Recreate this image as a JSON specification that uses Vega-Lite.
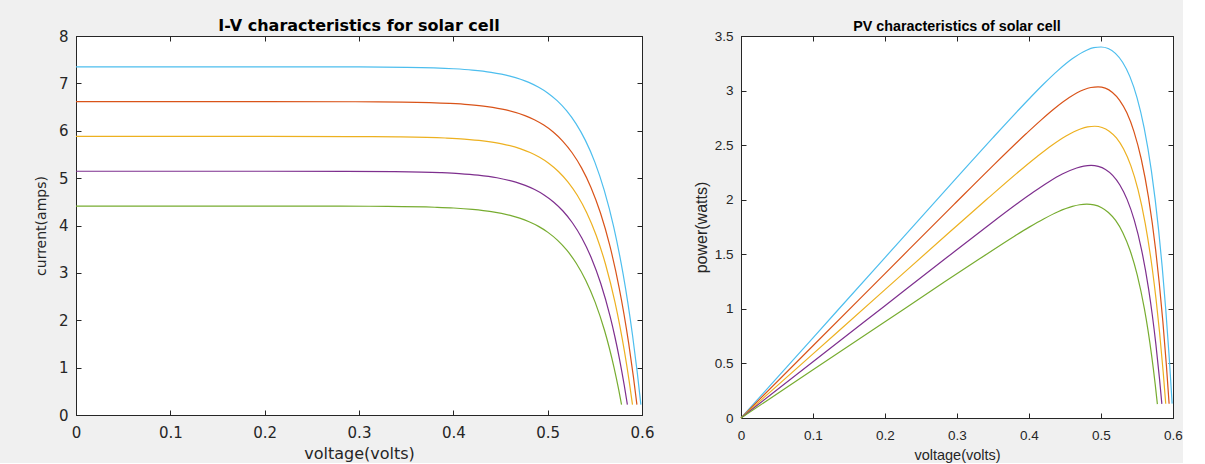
{
  "$schema": "https://vega.github.io/schema/vega-lite/v6.json",
  "background": "#f0f0f0",
  "padding": {"left": 33, "top": 17, "right": 0, "bottom": 0},
  "spacing": 37,
  "config": {
    "view": {"stroke": "#262626", "strokeWidth": 1, "fill": "white"},
    "axis": {"grid": false, "domainColor": "#262626", "tickColor": "#262626", "labelColor": "#262626", "titleColor": "#262626", "titleFontWeight": "normal", "labelFlush": false, "tickSize": -5}
  },
  "datasets": {
    "cells": [
      {"s":"A","v":0,"i":7.35,"p":0},{"s":"A","v":0.1,"i":7.35,"p":0.735},{"s":"A","v":0.2,"i":7.35,"p":1.47},{"s":"A","v":0.3,"i":7.347,"p":2.204},{"s":"A","v":0.35,"i":7.339,"p":2.569},{"s":"A","v":0.4,"i":7.309,"p":2.923},{"s":"A","v":0.42,"i":7.281,"p":3.058},{"s":"A","v":0.44,"i":7.234,"p":3.183},{"s":"A","v":0.46,"i":7.154,"p":3.291},{"s":"A","v":0.48,"i":7.022,"p":3.37},{"s":"A","v":0.49,"i":6.924,"p":3.393},{"s":"A","v":0.5,"i":6.799,"p":3.399},{"s":"A","v":0.51,"i":6.636,"p":3.385},{"s":"A","v":0.52,"i":6.425,"p":3.341},{"s":"A","v":0.53,"i":6.151,"p":3.26},{"s":"A","v":0.54,"i":5.797,"p":3.13},{"s":"A","v":0.55,"i":5.338,"p":2.936},{"s":"A","v":0.56,"i":4.742,"p":2.656},{"s":"A","v":0.57,"i":3.971,"p":2.264},{"s":"A","v":0.58,"i":2.972,"p":1.724},{"s":"A","v":0.585,"i":2.367,"p":1.385},{"s":"A","v":0.59,"i":1.678,"p":0.99},{"s":"A","v":0.595,"i":0.893,"p":0.531},{"s":"A","v":0.5988,"i":0.22,"p":0.132},
      {"s":"B","v":0,"i":6.615,"p":0},{"s":"B","v":0.1,"i":6.615,"p":0.662},{"s":"B","v":0.2,"i":6.615,"p":1.323},{"s":"B","v":0.2959,"i":6.612,"p":1.957},{"s":"B","v":0.3459,"i":6.605,"p":2.285},{"s":"B","v":0.3959,"i":6.578,"p":2.604},{"s":"B","v":0.4159,"i":6.553,"p":2.725},{"s":"B","v":0.4359,"i":6.511,"p":2.838},{"s":"B","v":0.4559,"i":6.439,"p":2.936},{"s":"B","v":0.4759,"i":6.319,"p":3.007},{"s":"B","v":0.4859,"i":6.232,"p":3.028},{"s":"B","v":0.4959,"i":6.119,"p":3.034},{"s":"B","v":0.5059,"i":5.973,"p":3.022},{"s":"B","v":0.5159,"i":5.782,"p":2.983},{"s":"B","v":0.5259,"i":5.536,"p":2.911},{"s":"B","v":0.5359,"i":5.217,"p":2.796},{"s":"B","v":0.5459,"i":4.804,"p":2.622},{"s":"B","v":0.5559,"i":4.268,"p":2.373},{"s":"B","v":0.5659,"i":3.574,"p":2.023},{"s":"B","v":0.5759,"i":2.674,"p":1.54},{"s":"B","v":0.5809,"i":2.13,"p":1.237},{"s":"B","v":0.5859,"i":1.51,"p":0.885},{"s":"B","v":0.5909,"i":0.804,"p":0.475},{"s":"B","v":0.5946,"i":0.22,"p":0.131},
      {"s":"C","v":0,"i":5.88,"p":0},{"s":"C","v":0.1,"i":5.88,"p":0.588},{"s":"C","v":0.2,"i":5.88,"p":1.176},{"s":"C","v":0.2914,"i":5.878,"p":1.713},{"s":"C","v":0.3414,"i":5.871,"p":2.004},{"s":"C","v":0.3914,"i":5.847,"p":2.289},{"s":"C","v":0.4114,"i":5.825,"p":2.396},{"s":"C","v":0.4314,"i":5.787,"p":2.497},{"s":"C","v":0.4514,"i":5.724,"p":2.584},{"s":"C","v":0.4714,"i":5.617,"p":2.648},{"s":"C","v":0.4814,"i":5.54,"p":2.667},{"s":"C","v":0.4914,"i":5.439,"p":2.673},{"s":"C","v":0.5014,"i":5.309,"p":2.662},{"s":"C","v":0.5114,"i":5.14,"p":2.628},{"s":"C","v":0.5214,"i":4.921,"p":2.566},{"s":"C","v":0.5314,"i":4.638,"p":2.464},{"s":"C","v":0.5414,"i":4.27,"p":2.312},{"s":"C","v":0.5514,"i":3.794,"p":2.092},{"s":"C","v":0.5614,"i":3.177,"p":1.784},{"s":"C","v":0.5714,"i":2.377,"p":1.358},{"s":"C","v":0.5764,"i":1.893,"p":1.091},{"s":"C","v":0.5814,"i":1.342,"p":0.781},{"s":"C","v":0.5864,"i":0.714,"p":0.419},{"s":"C","v":0.5899,"i":0.22,"p":0.13},
      {"s":"D","v":0,"i":5.145,"p":0},{"s":"D","v":0.1,"i":5.145,"p":0.515},{"s":"D","v":0.2,"i":5.145,"p":1.029},{"s":"D","v":0.2862,"i":5.143,"p":1.472},{"s":"D","v":0.3362,"i":5.137,"p":1.727},{"s":"D","v":0.3862,"i":5.116,"p":1.976},{"s":"D","v":0.4062,"i":5.097,"p":2.07},{"s":"D","v":0.4262,"i":5.064,"p":2.158},{"s":"D","v":0.4462,"i":5.008,"p":2.235},{"s":"D","v":0.4662,"i":4.915,"p":2.291},{"s":"D","v":0.4762,"i":4.847,"p":2.308},{"s":"D","v":0.4862,"i":4.759,"p":2.314},{"s":"D","v":0.4962,"i":4.645,"p":2.305},{"s":"D","v":0.5062,"i":4.497,"p":2.277},{"s":"D","v":0.5162,"i":4.306,"p":2.223},{"s":"D","v":0.5262,"i":4.058,"p":2.135},{"s":"D","v":0.5362,"i":3.736,"p":2.003},{"s":"D","v":0.5462,"i":3.32,"p":1.813},{"s":"D","v":0.5562,"i":2.78,"p":1.546},{"s":"D","v":0.5662,"i":2.08,"p":1.178},{"s":"D","v":0.5712,"i":1.657,"p":0.946},{"s":"D","v":0.5762,"i":1.175,"p":0.677},{"s":"D","v":0.5812,"i":0.625,"p":0.363},{"s":"D","v":0.5845,"i":0.22,"p":0.129},
      {"s":"E","v":0,"i":4.41,"p":0},{"s":"E","v":0.1,"i":4.41,"p":0.441},{"s":"E","v":0.2,"i":4.41,"p":0.882},{"s":"E","v":0.2803,"i":4.408,"p":1.236},{"s":"E","v":0.3303,"i":4.403,"p":1.454},{"s":"E","v":0.3803,"i":4.385,"p":1.668},{"s":"E","v":0.4003,"i":4.369,"p":1.749},{"s":"E","v":0.4203,"i":4.34,"p":1.824},{"s":"E","v":0.4403,"i":4.293,"p":1.89},{"s":"E","v":0.4603,"i":4.213,"p":1.939},{"s":"E","v":0.4703,"i":4.155,"p":1.954},{"s":"E","v":0.4803,"i":4.079,"p":1.959},{"s":"E","v":0.4903,"i":3.982,"p":1.952},{"s":"E","v":0.5003,"i":3.855,"p":1.929},{"s":"E","v":0.5103,"i":3.691,"p":1.883},{"s":"E","v":0.5203,"i":3.478,"p":1.81},{"s":"E","v":0.5303,"i":3.203,"p":1.698},{"s":"E","v":0.5403,"i":2.845,"p":1.537},{"s":"E","v":0.5503,"i":2.383,"p":1.311},{"s":"E","v":0.5603,"i":1.783,"p":0.999},{"s":"E","v":0.5653,"i":1.42,"p":0.803},{"s":"E","v":0.5703,"i":1.007,"p":0.574},{"s":"E","v":0.5753,"i":0.536,"p":0.308},{"s":"E","v":0.5783,"i":0.22,"p":0.127}
    ]
  },
  "hconcat": [
    {
      "width": 566,
      "height": 379,
      "data": {"name": "cells"},
      "title": {"text": "I-V characteristics for solar cell", "font": "DejaVu Sans", "fontSize": 16, "fontWeight": "bold", "color": "#000000", "offset": -5, "anchor": "middle"},
      "layer": [
        {
          "mark": {"type": "line", "interpolate": "monotone", "strokeWidth": 1.2},
          "encoding": {
            "x": {"field": "v", "type": "quantitative", "scale": {"domain": [0, 0.6], "nice": false, "zero": false},
              "axis": {"orient": "bottom", "values": [0, 0.1, 0.2, 0.3, 0.4, 0.5, 0.6], "format": "~g", "labelPadding": 15, "labelFont": "DejaVu Sans", "labelFontSize": 15, "title": "voltage(volts)", "titleFont": "DejaVu Sans", "titleFontSize": 16, "titlePadding": 5}},
            "y": {"field": "i", "type": "quantitative", "scale": {"domain": [0, 8], "nice": false},
              "axis": {"orient": "left", "values": [0, 1, 2, 3, 4, 5, 6, 7, 8], "format": "~g", "labelPadding": 13, "labelFont": "DejaVu Sans", "labelFontSize": 15, "title": "current(amps)", "titleFont": "DejaVu Sans", "titleFontSize": 14, "titlePadding": 10}},
            "color": {"field": "s", "type": "nominal", "scale": {"domain": ["A", "B", "C", "D", "E"], "range": ["#4DBEEE", "#D95319", "#EDB120", "#7E2F8E", "#77AC30"]}, "legend": null}
          }
        },
        {
          "mark": {"type": "point", "opacity": 0},
          "encoding": {
            "x": {"field": "v", "type": "quantitative", "scale": {"domain": [0, 0.6], "nice": false, "zero": false},
              "axis": {"orient": "top", "values": [0, 0.1, 0.2, 0.3, 0.4, 0.5, 0.6], "labels": false, "title": null}},
            "y": {"field": "i", "type": "quantitative", "scale": {"domain": [0, 8], "nice": false},
              "axis": {"orient": "right", "values": [0, 1, 2, 3, 4, 5, 6, 7, 8], "labels": false, "title": null}}
          }
        }
      ],
      "resolve": {"axis": {"x": "independent", "y": "independent"}}
    },
    {
      "width": 432,
      "height": 382,
      "data": {"name": "cells"},
      "title": {"text": "PV characteristics of solar cell", "font": "Liberation Sans", "fontSize": 14.3, "fontWeight": "bold", "color": "#000000", "offset": -5, "anchor": "middle"},
      "layer": [
        {
          "mark": {"type": "line", "interpolate": "monotone", "strokeWidth": 1.2},
          "encoding": {
            "x": {"field": "v", "type": "quantitative", "scale": {"domain": [0, 0.6], "nice": false, "zero": false},
              "axis": {"orient": "bottom", "values": [0, 0.1, 0.2, 0.3, 0.4, 0.5, 0.6], "format": "~g", "labelPadding": 15, "labelFont": "Liberation Sans", "labelFontSize": 13.5, "title": "voltage(volts)", "titleFont": "Liberation Sans", "titleFontSize": 14.5, "titlePadding": 7}},
            "y": {"field": "p", "type": "quantitative", "scale": {"domain": [0, 3.5], "nice": false},
              "axis": {"orient": "left", "values": [0, 0.5, 1, 1.5, 2, 2.5, 3, 3.5], "format": "~g", "labelPadding": 13, "labelFont": "Liberation Sans", "labelFontSize": 13.5, "title": "power(watts)", "titleFont": "Liberation Sans", "titleFontSize": 16, "titlePadding": 5}},
            "color": {"field": "s", "type": "nominal", "scale": {"domain": ["A", "B", "C", "D", "E"], "range": ["#4DBEEE", "#D95319", "#EDB120", "#7E2F8E", "#77AC30"]}, "legend": null}
          }
        },
        {
          "mark": {"type": "point", "opacity": 0},
          "encoding": {
            "x": {"field": "v", "type": "quantitative", "scale": {"domain": [0, 0.6], "nice": false, "zero": false},
              "axis": {"orient": "top", "values": [0, 0.1, 0.2, 0.3, 0.4, 0.5, 0.6], "labels": false, "title": null}},
            "y": {"field": "p", "type": "quantitative", "scale": {"domain": [0, 3.5], "nice": false},
              "axis": {"orient": "right", "values": [0, 0.5, 1, 1.5, 2, 2.5, 3, 3.5], "labels": false, "title": null}}
          }
        }
      ],
      "resolve": {"axis": {"x": "independent", "y": "independent"}}
    }
  ]
}
